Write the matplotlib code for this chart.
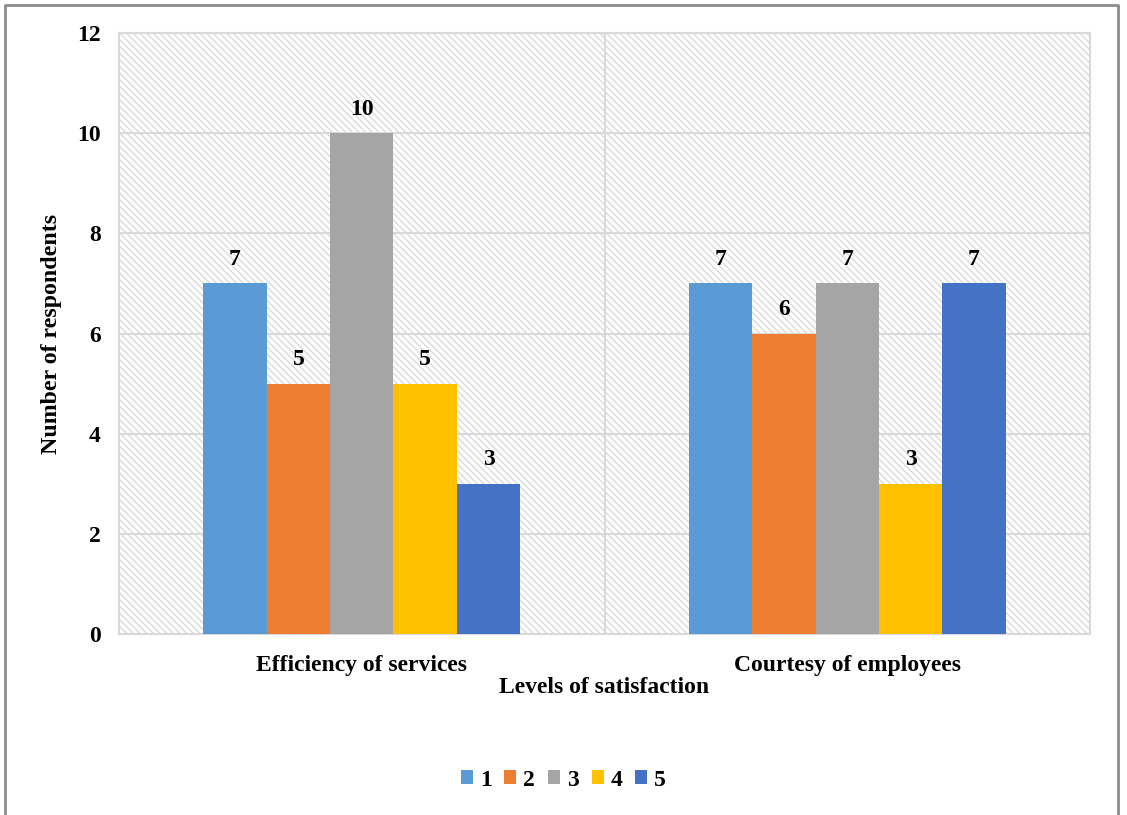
import matplotlib.pyplot as plt
from matplotlib.lines import Line2D
import numpy as np

plt.rcParams['font.family'] = ['Liberation Serif', 'DejaVu Serif']
plt.rcParams['font.weight'] = 'bold'
plt.rcParams['hatch.color'] = '#d8d8d8'
plt.rcParams['hatch.linewidth'] = 0.9

categories = ['Efficiency of services', 'Courtesy of employees']
levels = ['1', '2', '3', '4', '5']
values = [
    [7, 7],   # 1
    [5, 6],   # 2
    [10, 7],  # 3
    [5, 3],   # 4
    [3, 7],   # 5
]
colors = ['#5b9bd5', '#ed7d31', '#a5a5a5', '#ffc000', '#4472c4']

fig = plt.figure(figsize=(11.27, 8.15), dpi=100)
ax = fig.add_axes([119 / 1127, 1 - 634 / 815, 971 / 1127, 601 / 815])

# hatched plot area
ax.patch.set_facecolor('white')
ax.patch.set_hatch('\\' * 5)
ax.patch.set_edgecolor('#d8d8d8')

x = np.arange(len(categories))
width = 0.1305
for i, (lvl, vals, c) in enumerate(zip(levels, values, colors)):
    pos = x + (i - 2) * width
    bars = ax.bar(pos, vals, width, color=c, label=lvl, zorder=3)
    for b, v in zip(bars, vals):
        ax.text(b.get_x() + b.get_width() / 2, v + 0.27, str(v),
                ha='center', va='bottom', fontsize=17, fontweight='bold')

ax.set_xlim(-0.5, 1.5)
ax.set_ylim(0, 12)
ax.set_yticks(range(0, 13, 2))
ax.set_xticks(x)
ax.set_xticklabels(categories)
ax.tick_params(length=0, labelsize=17)
ax.tick_params(axis='x', pad=15)
ax.tick_params(axis='y', pad=13)

# gridlines and category separator
for yv in range(2, 13, 2):
    ax.axhline(yv, color='#d9d9d9', lw=1.5, zorder=1)
ax.axvline(0.5, color='#d9d9d9', lw=1.5, zorder=1)
for s in ax.spines.values():
    s.set_color('#d9d9d9')
    s.set_linewidth(1.5)

ax.set_ylabel('Number of respondents', fontsize=17.2, fontweight='bold', labelpad=11)
ax.set_xlabel('Levels of satisfaction', fontsize=17, fontweight='bold', labelpad=1)

# legend centred on the whole figure
fig.legend(*ax.get_legend_handles_labels(), loc='center',
           bbox_to_anchor=(0.5, 1 - 780 / 815), ncol=5, frameon=False,
           fontsize=17, handlelength=0.5, handleheight=0.5, handletextpad=0.3,
           columnspacing=0.55)

# outer chart border
fx0, fx1, fy = 5 / 1127, 1118 / 1127, 1 - 5 / 815
fig.add_artist(Line2D([fx0, fx0, fx1, fx1], [0, fy, fy, 0],
                      color='#8c8c8c', lw=2))

fig.savefig('out.png', dpi=100)
